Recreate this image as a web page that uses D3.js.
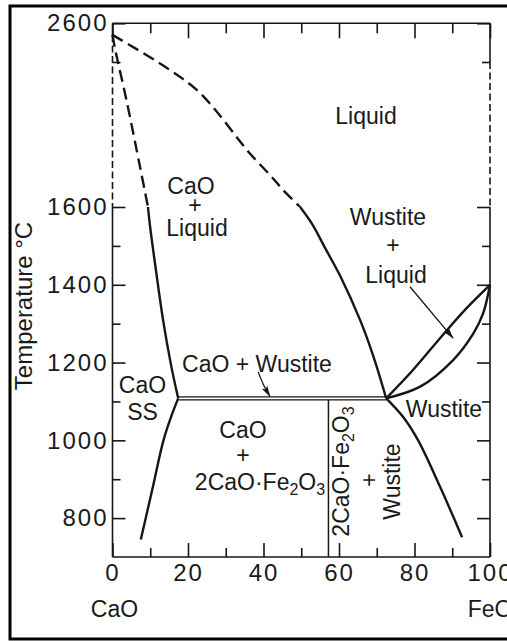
<!DOCTYPE html>
<html><head><meta charset="utf-8">
<script src="https://cdn.jsdelivr.net/npm/d3@7"></script>
<style>
html,body{margin:0;padding:0;background:#fff;}
svg{display:block;}
text{font-family:"Liberation Sans",Arial,sans-serif;fill:#1a1a1a;}
</style></head><body>
<svg id="c" width="507" height="641"></svg>
<script>
// ---------- data ----------
const tempTicksMajor = [800, 1000, 1200, 1400, 1600, 2600];
const tempTickLabels = ["800", "1000", "1200", "1400", "1600", "2600"];
const tempTicksMinor = [900, 1100, 1300, 1500, 2400];
const compTicksMajor = [0, 20, 40, 60, 80, 100];
const compTickLabels = ["0", "20", "40", "60", "80", "100"];
const compTicksMinor = [10, 30, 50, 70, 90];
const endMembers = ["CaO", "FeO"];
const axisTitle = "Temperature °C";

// phase boundaries: [wt% FeO, °C]
const liquidusDashed = [[0,2540],[14.4,2367],[23.2,2229],[36.4,1895],[41.7,1777],[45.2,1694],[49.7,1600]];
const wustiteLiquidus = [[49.7,1600],[52.9,1556],[56.3,1495],[60.3,1423],[65.6,1309],[69.0,1219],[72.5,1108]];
const caoLiquidusDashed = [[0,2540],[0.7,2466],[3.8,2180],[7.3,1820],[9.4,1600]];
const caoLiquidus = [[9.4,1600],[9.9,1554],[11.5,1438],[13.4,1309],[15.5,1194],[17.4,1108]];
const caoSolvus = [[17.4,1108],[15.5,1060],[13.5,1000],[10.5,872],[7.5,745]];
const wustiteSolvus = [[72.5,1108],[77.0,1060],[80.9,1001],[86.8,880],[92.6,751]];
const lensUpper = [[72.5,1108],[79.6,1181],[87.5,1271],[93.8,1340],[100,1400]];
const lensLower = [[72.5,1108],[81.5,1138],[90.3,1207],[95.6,1275],[98.2,1327],[100,1400]];
const isothermTemps = [1112, 1104];
const isothermSpan = [17.4, 72.5];
const compoundComp = 57.2;
const compoundTop = 1104;
const leftDashedSpan = [2540, 1600];
const rightDashedSpan = [2400, 1600];
const arrowLiquid = [[78.8,1395],[90.2,1263]];
const arrowCaoW = [[38.6,1176],[40.0,1143],[41.7,1113]];

// ---------- scales ----------
const svg = d3.select("#c");
const x = d3.scaleLinear().domain([0, 100]).range([112.5, 490]);
const y = d3.scaleLinear().domain([700, 1600, 2400, 2600]).range([557, 207, 62, 23.3]);
const INK = "#161616";
const FONT = '"Liberation Sans", Arial, sans-serif';

svg.append("rect").attr("width",507).attr("height",641).attr("fill","#fff");
svg.append("rect").attr("x",10).attr("y",6).attr("width",540).attr("height",633)
  .attr("fill","none").attr("stroke","#000").attr("stroke-width",3);

const defs = svg.append("defs");
defs.append("marker").attr("id","ah").attr("viewBox","0 0 12 8").attr("refX",11).attr("refY",4)
  .attr("markerWidth",12).attr("markerHeight",8).attr("markerUnits","userSpaceOnUse").attr("orient","auto")
  .append("path").attr("d","M0,0.8 L12,4 L0,7.2 L3,4 Z").attr("fill",INK);

function styleAxis(g, fs){
  g.attr("font-family", FONT).attr("font-size", fs).attr("color", INK);
  g.select(".domain").remove();
  g.selectAll(".tick line").attr("stroke-width",1.6);
  g.selectAll(".tick text").attr("letter-spacing","2px");
}

// left axis
styleAxis(svg.append("g").attr("transform",`translate(${x(0)},0)`)
  .call(d3.axisLeft(y).tickValues(tempTicksMajor).tickFormat((d,i)=>tempTickLabels[i])
    .tickSizeInner(-13).tickSizeOuter(0).tickPadding(4)), 24);
styleAxis(svg.append("g").attr("transform",`translate(${x(0)},0)`)
  .call(d3.axisLeft(y).tickValues(tempTicksMinor).tickFormat("").tickSizeInner(-8).tickSizeOuter(0)), 24);
// right axis
styleAxis(svg.append("g").attr("transform",`translate(${x(100)},0)`)
  .call(d3.axisRight(y).tickValues(tempTicksMajor).tickFormat("").tickSizeInner(-13).tickSizeOuter(0)), 24);
styleAxis(svg.append("g").attr("transform",`translate(${x(100)},0)`)
  .call(d3.axisRight(y).tickValues(tempTicksMinor).tickFormat("").tickSizeInner(-8).tickSizeOuter(0)), 24);
// top axis
styleAxis(svg.append("g").attr("transform",`translate(0,${y(2600)})`)
  .call(d3.axisTop(x).tickValues(compTicksMajor).tickFormat("").tickSizeInner(-15).tickSizeOuter(0)), 24);
styleAxis(svg.append("g").attr("transform",`translate(0,${y(2600)})`)
  .call(d3.axisTop(x).tickValues(compTicksMinor).tickFormat("").tickSizeInner(-10).tickSizeOuter(0)), 24);
// bottom axis
styleAxis(svg.append("g").attr("transform",`translate(0,${y(700)})`)
  .call(d3.axisBottom(x).tickValues(compTicksMajor).tickFormat((d,i)=>compTickLabels[i])
    .tickSizeInner(-14).tickSizeOuter(0).tickPadding(7)), 24);
styleAxis(svg.append("g").attr("transform",`translate(0,${y(700)})`)
  .call(d3.axisBottom(x).tickValues(compTicksMinor).tickFormat("").tickSizeInner(-9).tickSizeOuter(0)), 24);

// axis frame lines
const frame = svg.append("g").attr("stroke",INK).attr("stroke-width",1.6).attr("fill","none");
frame.append("line").attr("x1",x(0)).attr("x2",x(100)).attr("y1",y(2600)).attr("y2",y(2600));
frame.append("line").attr("x1",x(0)).attr("x2",x(100)).attr("y1",y(700)).attr("y2",y(700));
function vseg(xv, t0, t1, dashed){
  const l = frame.append("line").attr("x1",x(xv)).attr("x2",x(xv)).attr("y1",y(t0)).attr("y2",y(t1));
  if(dashed) l.attr("stroke-dasharray","7,3.5");
}
vseg(0, 2600, leftDashedSpan[0], false); vseg(0, leftDashedSpan[0], leftDashedSpan[1], true); vseg(0, leftDashedSpan[1], 700, false);
vseg(100, 2600, rightDashedSpan[0], false); vseg(100, rightDashedSpan[0], rightDashedSpan[1], true); vseg(100, rightDashedSpan[1], 700, false);

// curves
const line = d3.line().x(d=>x(d[0])).y(d=>y(d[1])).curve(d3.curveCatmullRom.alpha(0.5));
const cg = svg.append("g").attr("fill","none").attr("stroke",INK).attr("stroke-linecap","butt");
[[liquidusDashed,true],[caoLiquidusDashed,true],[wustiteLiquidus,false],[caoLiquidus,false],
 [caoSolvus,false],[wustiteSolvus,false],[lensUpper,false],[lensLower,false]].forEach(([d,dash])=>{
  const p = cg.append("path").attr("d",line(d)).attr("stroke-width",2.4);
  if(dash) p.attr("stroke-dasharray","12,6");
});
isothermTemps.forEach(t=>{
  cg.append("line").attr("x1",x(isothermSpan[0])).attr("x2",x(isothermSpan[1]))
    .attr("y1",y(t)).attr("y2",y(t)).attr("stroke-width",1.3);
});
cg.append("line").attr("x1",x(compoundComp)).attr("x2",x(compoundComp))
  .attr("y1",y(compoundTop)).attr("y2",y(700)).attr("stroke-width",1.5);

// arrows
const aline = d3.line().x(d=>x(d[0])).y(d=>y(d[1])).curve(d3.curveCatmullRom);
[arrowLiquid, arrowCaoW].forEach(a=>{
  cg.append("path").attr("d",aline(a)).attr("stroke-width",1.3).attr("marker-end","url(#ah)");
});

// labels
const labels = [
  {t:"Liquid", x:366, y:124},
  {t:"CaO", x:191, y:194}, {t:"+", x:195, y:213}, {t:"Liquid", x:197, y:236},
  {t:"Wustite", x:388, y:225}, {t:"+", x:393, y:253}, {t:"Liquid", x:396, y:283},
  {t:"CaO + Wustite", x:257, y:372},
  {t:"CaO", x:142.5, y:393}, {t:"SS", x:142.5, y:420},
  {t:"CaO", x:243, y:438}, {t:"+", x:243, y:463},
  {t:"Wustite", x:444, y:417}
];
const lg = svg.append("g").attr("font-size",23).attr("text-anchor","middle");
labels.forEach(l=>lg.append("text").attr("x",l.x).attr("y",l.y).text(l.t));

function formula(g){
  g.append("tspan").text("2CaO·Fe");
  g.append("tspan").attr("font-size",16).attr("dy",5).text("2");
  g.append("tspan").attr("dy",-5).text("O");
  g.append("tspan").attr("font-size",16).attr("dy",5).text("3");
}
formula(lg.append("text").attr("x",260).attr("y",490));
const vt = lg.append("g").attr("transform","translate(349,471.5) rotate(-90)");
formula(vt.append("text").attr("x",0).attr("y",0));
lg.append("text").attr("transform","translate(377,480) rotate(-90)").text("+");
lg.append("text").attr("transform","translate(400,481.5) rotate(-90)").text("Wustite");

// axis title and end members
svg.append("text").attr("transform","translate(32,306) rotate(-90)").attr("text-anchor","middle")
  .attr("font-size",24).text(axisTitle);
svg.append("text").attr("x",x(0)+2).attr("y",617).attr("text-anchor","middle").attr("font-size",23).text(endMembers[0]);
svg.append("text").attr("x",x(100)).attr("y",617).attr("text-anchor","middle").attr("font-size",23).text(endMembers[1]);
</script></body></html>
